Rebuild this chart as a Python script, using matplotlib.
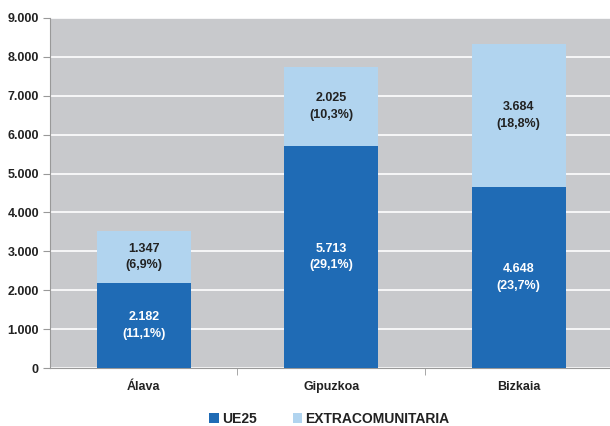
import numpy as np
import matplotlib.pyplot as plt
from matplotlib.ticker import FuncFormatter

plt.rcParams['font.family'] = ['Liberation Sans', 'DejaVu Sans']

# Daten
provincias = ['Álava', 'Gipuzkoa', 'Bizkaia']
ue25 = [2182, 5713, 4648]
extra = [1347, 2025, 3684]
ue25_pct = ['11,1%', '29,1%', '23,7%']
extra_pct = ['6,9%', '10,3%', '18,8%']

c_ue25 = '#1F6BB5'
c_extra = '#B1D4EF'

fig = plt.figure(figsize=(6.1, 4.26), dpi=100)
ax = fig.add_axes([0.082, 0.136, 0.922, 0.822])
ax.set_facecolor('#C8C9CC')

x = np.arange(len(provincias))
ax.bar(x, ue25, width=0.5, color=c_ue25, label='UE25', zorder=3)
ax.bar(x, extra, width=0.5, bottom=ue25, color=c_extra, label='EXTRACOMUNITARIA', zorder=3)

def miles(v):
    return f'{v:,}'.replace(',', '.')

for i in range(len(provincias)):
    ax.text(x[i], ue25[i] / 2, miles(ue25[i]) + '\n(' + ue25_pct[i] + ')',
            ha='center', va='center', color='white', fontsize=9, fontweight='bold',
            linespacing=1.5, zorder=4)
    ax.text(x[i], ue25[i] + extra[i] / 2, miles(extra[i]) + '\n(' + extra_pct[i] + ')',
            ha='center', va='center', color='#222222', fontsize=9, fontweight='bold',
            linespacing=1.5, zorder=4)

ax.set_ylim(0, 9000)
ax.set_xlim(-0.5, 2.5)
ax.set_yticks(np.arange(0, 9001, 1000))
ax.yaxis.set_major_formatter(FuncFormatter(lambda v, p: miles(int(v))))
ax.grid(axis='y', color='white', linewidth=1.2, zorder=0)
ax.set_axisbelow(True)

ax.set_xticks(x)
ax.set_xticklabels(provincias, fontweight='bold', fontsize=9, color='#222222')
ax.set_xticks([0.5, 1.5, 2.5], minor=True)
ax.tick_params(axis='x', which='major', length=0, pad=9)
ax.tick_params(axis='x', which='minor', length=5, color='#999999')
ax.tick_params(axis='y', length=5, color='#999999', labelsize=9, labelcolor='#222222', pad=3)
for lbl in ax.get_yticklabels():
    lbl.set_fontweight('bold')

for s in ['top', 'right']:
    ax.spines[s].set_visible(False)
ax.spines['left'].set_color('#999999')
ax.spines['bottom'].set_color('#999999')

leg = fig.legend(loc='center', bbox_to_anchor=(0.54, 0.016), ncol=2, frameon=False,
                 borderpad=0, handlelength=0.7, handleheight=0.7, handletextpad=0.2,
                 columnspacing=2.6, prop={'weight': 'bold', 'size': 10})
for t in leg.get_texts():
    t.set_color('#222222')

fig.savefig('out.png', dpi=100, facecolor='white')
